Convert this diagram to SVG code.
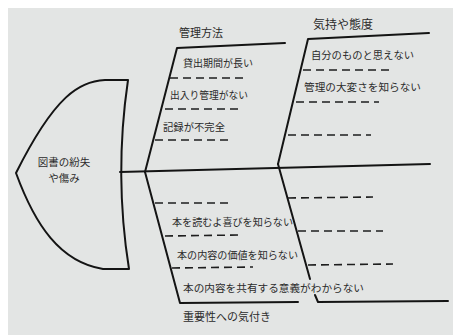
<svg xmlns="http://www.w3.org/2000/svg" width="453" height="335" viewBox="0 0 453 335">
<style>
.line{fill:none;stroke:#141414;stroke-width:2;stroke-linecap:round;stroke-linejoin:round}
.dash{fill:none;stroke:#1e1e1e;stroke-width:1.6;stroke-dasharray:8 5}
.t{font-family:"Noto Sans CJK JP","Noto Sans",sans-serif;fill:#2b2b2b}
.item{font-size:10.5px}
.lab{font-size:11px;text-anchor:middle}
</style>
<rect x="0" y="0" width="453" height="335" fill="#ffffff"/>
<rect x="8" y="8" width="445" height="327" fill="#e3e5e4"/>
<g id="head">
<path class="line" d="M128,80 L105,80 C80,81 55,95 16,173 C35,225 60,262 103,269 L129,269 Q114,175 128,80 Z" fill="#e6e8e7"/>
<text class="t lab" x="64" y="166" style="font-size:10.5px">図書の紛失</text>
<text class="t lab" x="64" y="182" style="font-size:10.5px">や傷み</text>
</g>
<g id="connectors">
<path class="line" d="M120,172 L430,164"/>
<path class="line" d="M145,172 L177,48 L285,43"/>
<path class="line" d="M278,164 L308,39 L429,33"/>
<path class="line" d="M145,172 L180,303 L298,302"/>
<path class="line" d="M278,164 L310,279"/>
<path class="line" d="M315,295 L318,302 L448,301"/>
</g>
<g id="cat-kanri">
<text class="t lab" x="201" y="37">管理方法</text>
<text class="t item" x="183" y="67" textLength="70" lengthAdjust="spacingAndGlyphs">貸出期間が長い</text>
<line class="dash" x1="170" y1="78" x2="247" y2="78"/>
<text class="t item" x="170" y="99" textLength="78" lengthAdjust="spacingAndGlyphs">出入り管理がない</text>
<line class="dash" x1="165" y1="109" x2="238" y2="109"/>
<text class="t item" x="163" y="131" textLength="62" lengthAdjust="spacingAndGlyphs">記録が不完全</text>
<line class="dash" x1="155" y1="140" x2="230" y2="140"/>
</g>
<g id="cat-kimochi">
<text class="t lab" x="343" y="29" style="font-size:12px">気持や態度</text>
<text class="t item" x="311" y="59" textLength="103" lengthAdjust="spacingAndGlyphs">自分のものと思えない</text>
<line class="dash" x1="303" y1="70" x2="389" y2="70"/>
<text class="t item" x="304" y="91" textLength="117" lengthAdjust="spacingAndGlyphs">管理の大変さを知らない</text>
<line class="dash" x1="296" y1="102" x2="379" y2="102"/>
<line class="dash" x1="288" y1="135" x2="371" y2="135"/>
</g>
<g id="cat-juuyousei">
<line class="dash" x1="155" y1="203" x2="233" y2="203"/>
<text class="t item" x="172" y="226" textLength="121" lengthAdjust="spacingAndGlyphs">本を読むよ喜びを知らない</text>
<line class="dash" x1="165" y1="236" x2="242" y2="235"/>
<text class="t item" x="177" y="259" textLength="121" lengthAdjust="spacingAndGlyphs">本の内容の価値を知らない</text>
<line class="dash" x1="172" y1="268" x2="253" y2="267"/>
<text class="t item" x="183" y="292" textLength="181" lengthAdjust="spacingAndGlyphs">本の内容を共有する意義がわからない</text>
<text class="t lab" x="227" y="321">重要性への気付き</text>
</g>
<g id="cat-empty">
<line class="dash" x1="288" y1="198" x2="373" y2="197"/>
<line class="dash" x1="298" y1="231" x2="383" y2="231"/>
<line class="dash" x1="308" y1="265" x2="393" y2="264"/>
</g>
</svg>
